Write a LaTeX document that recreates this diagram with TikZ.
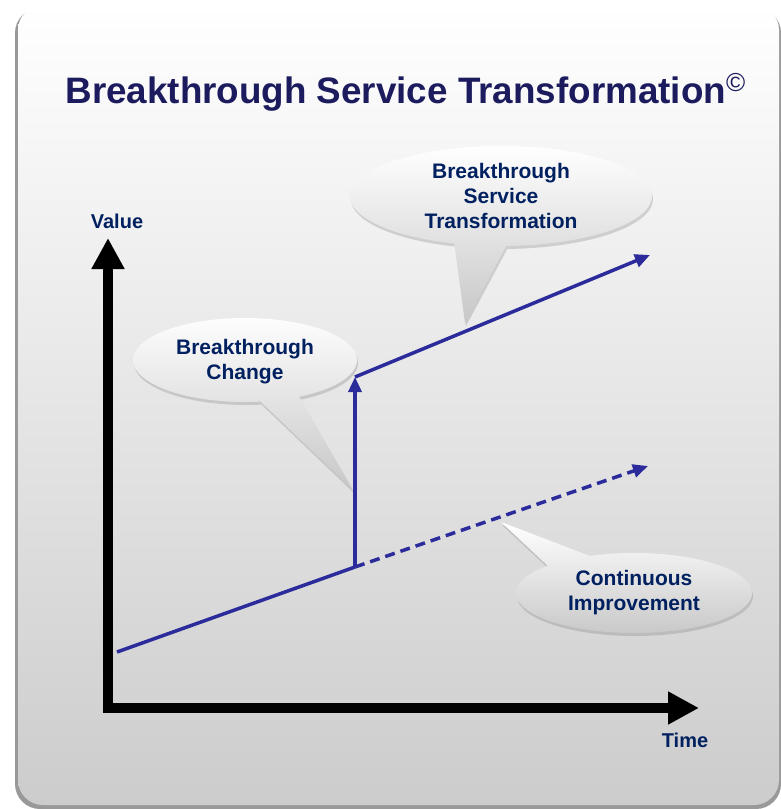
\documentclass[tikz,border=0pt]{standalone}
\usepackage{fontspec}
\setmainfont{Liberation Sans}
\usetikzlibrary{arrows.meta,shadows,calc}

\definecolor{titlenavy}{RGB}{27,27,94}
\definecolor{textblue}{RGB}{0,32,96}
\definecolor{trendblue}{RGB}{43,43,155}

\begin{document}
\begin{tikzpicture}[x = 1pt, y = 1pt,
    axisline/.style = {line width=10pt, -{Triangle[width=31pt,length=31pt]}},
    trend/.style = {trendblue, line width=3.5pt},
    trendtip/.style = {-{Triangle[width=13pt,length=15pt]}},
    bubble/.style = {top color=white, middle color=white, bottom color=black!22, drop shadow={opacity=0.3, shadow xshift=1pt, shadow yshift=-3pt}},
    bubbletext/.style = {text=textblue, font=\bfseries\fontsize{21}{25}\selectfont, align=center},
    axislabel/.style = {text=textblue, font=\bfseries\fontsize{20}{24}\selectfont}]
    \useasboundingbox (0,0) rectangle (781,-809);
    \fill[black!40, rounded corners=25pt] (15,-8) rectangle (781,-809);
    \shade[top color=white, bottom color=black!20, rounded corners=25pt] (18,-5) rectangle (779,-805);

    \node[anchor=base west, text=titlenavy, font=\bfseries\fontsize{36.8}{40}\selectfont] (title) at (62,-103)
    {Breakthrough Service Transformation\raisebox{12pt}{\fontsize{26}{26}\selectfont\mdseries ©}};

    \coordinate (bst) at (501,-196);
    \coordinate (bst tip) at (465,-323);
    \coordinate (bc) at (245,-360);
    \coordinate (bc tip) at (353,-490);
    \coordinate (ci) at (634,-593);
    \coordinate (ci tip) at (501,-522);

    \shade[bubble] ($(bst)+(252:151pt and 50pt)$) -- (bst tip) -- ($(bst)+(272:151pt and 50pt)$)
    arc[start angle=272, end angle=612, x radius=151pt, y radius=50pt] -- cycle;
    \shade[bubble] ($(bc)+(278:112pt and 42pt)$) -- (bc tip) -- ($(bc)+(299:112pt and 42pt)$)
    arc[start angle=299, end angle=638, x radius=112pt, y radius=42pt] -- cycle;
    \shade[bubble] ($(ci)+(112:118pt and 40pt)$) -- (ci tip) -- ($(ci)+(137:118pt and 40pt)$)
    arc[start angle=137, end angle=472, x radius=118pt, y radius=40pt] -- cycle;

    \node[bubbletext] (bst text) at (bst) {Breakthrough\\Service\\Transformation};
    \node[bubbletext] (bc text) at ($(bc)+(0,-2)$) {Breakthrough\\Change};
    \node[bubbletext] (ci text) at (ci) {Continuous\\Improvement};

    \coordinate (origin) at (108,-713);
    \coordinate (value end) at (108,-238);
    \coordinate (time start) at (103,-708);
    \coordinate (time end) at (699,-708);
    \draw[axisline] (origin) -- (value end);
    \draw[axisline] (time start) -- (time end);
    \node[axislabel] (value) at (117,-221) {Value};
    \node[axislabel] (time) at (685,-740) {Time};

    \coordinate (ci start) at (117,-652);
    \coordinate (jump) at (355,-567);
    \coordinate (ci end) at (648,-466);
    \coordinate (jump top) at (355,-377);
    \coordinate (bst end) at (650,-255);
    \draw[trend] (ci start) -- (jump);
    \draw[trend, trendtip, dash pattern=on 10pt off 6pt] (jump) -- (ci end);
    \draw[trend, trendtip] (jump) -- (jump top);
    \draw[trend, trendtip] (jump top) -- (bst end);
\end{tikzpicture}
\end{document}
